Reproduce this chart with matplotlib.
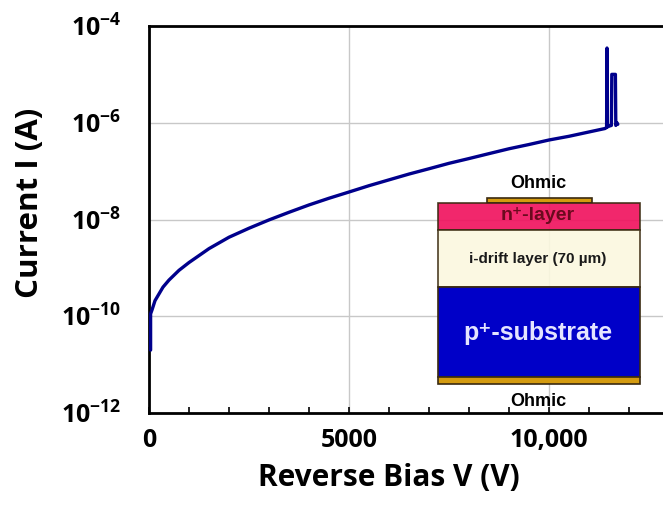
import numpy as np
import matplotlib
matplotlib.use("Agg")
import matplotlib.pyplot as plt
import matplotlib.ticker as mticker
from matplotlib.patches import Rectangle

# ---------------------------------------------------------------------------
# Measured reverse I-V sweep (voltage in V, current in A)
# ---------------------------------------------------------------------------
voltage = [40, 40, 75, 150, 350, 500, 750, 1000, 1200, 1500, 2000, 2500,
           3000, 3500, 4000, 4500, 5000, 5500, 6000, 6500, 7000, 7500, 8000,
           8500, 9000, 9500, 10000, 10500, 11000, 11400,
           11440, 11450, 11460, 11520, 11560, 11570, 11660, 11670, 11700,
           11720]
current = [2.0e-11, 1.12e-10, 1.35e-10, 2.1e-10, 4.0e-10, 5.6e-10, 8.9e-10,
           1.29e-9, 1.68e-9, 2.5e-9, 4.3e-9, 6.6e-9,
           9.8e-9, 1.41e-8, 2.0e-8, 2.75e-8, 3.7e-8, 5.0e-8, 6.6e-8, 8.7e-8,
           1.12e-7, 1.45e-7, 1.82e-7,
           2.3e-7, 2.9e-7, 3.55e-7, 4.4e-7, 5.25e-7, 6.45e-7, 7.6e-7,
           8.0e-7, 3.5e-5, 8.2e-7, 8.6e-7, 8.8e-7, 1.0e-5, 1.0e-5, 8.8e-7,
           1.0e-6, 9.3e-7]

x_major = [0, 5000, 10000]
x_labels = ["0", "5000", "10,000"]
y_decades = [-12, -10, -8, -6, -4]

W, H = 663, 507
plt.rcParams["font.family"] = ["Open Sans", "DejaVu Sans"]
plt.rcParams["mathtext.fontset"] = "custom"
plt.rcParams["mathtext.bf"] = "Open Sans:bold"
plt.rcParams["mathtext.rm"] = "Open Sans:bold"
plt.rcParams["mathtext.default"] = "bf"

fig = plt.figure(figsize=(W / 100, H / 100), dpi=100)
ax = fig.add_axes([149 / W, (H - 413) / H, 1 - 149 / W, (413 - 26) / H])

ax.plot(voltage, current, color="#00008C", lw=2.4, solid_joinstyle="round",
        solid_capstyle="round", zorder=3)

ax.set_yscale("log")
ax.set_ylim(1e-12, 1e-4)
ax.set_xlim(0, 12850)

ax.yaxis.set_major_locator(mticker.FixedLocator([10.0 ** d for d in y_decades]))
ax.yaxis.set_minor_locator(mticker.NullLocator())
ax.set_yticklabels([rf"$10^{{{d}}}$" for d in y_decades])
ax.xaxis.set_major_locator(mticker.FixedLocator(x_major))
ax.xaxis.set_minor_locator(mticker.MultipleLocator(1000))
ax.set_xticklabels(x_labels)

ax.tick_params(axis="y", length=0, pad=20, labelsize=18)
ax.tick_params(axis="x", which="both", direction="in", length=4, width=1.2,
               pad=11, labelsize=18)
for lab in ax.get_xticklabels() + ax.get_yticklabels():
    lab.set_fontweight("bold")

ax.grid(True, which="major", color="#C8C8C8", lw=1.0, zorder=0)
for side in ["left", "bottom", "top"]:
    ax.spines[side].set_linewidth(2.0)
ax.spines["right"].set_visible(False)

fig.text(30 / W, 1 - 203 / H, "Current I (A)", rotation=90, ha="center",
         va="center", fontsize=22.5, fontweight="bold")
fig.text(389 / W, 1 - 478 / H, "Reverse Bias V (V)", ha="center",
         va="center", fontsize=21.5, fontweight="bold")


# ---------------------------------------------------------------------------
# Device cross-section drawn over the lower right of the axes (pixel layout)
# ---------------------------------------------------------------------------
def px_rect(x0, y0, x1, y1, **kw):
    r = Rectangle((x0 / W, 1 - y1 / H), (x1 - x0) / W, (y1 - y0) / H,
                  transform=fig.transFigure, **kw)
    fig.add_artist(r)


def px_text(x, y, s, **kw):
    fig.text(x / W, 1 - y / H, s, ha="center", va="center",
             family=["Liberation Sans", "DejaVu Sans"], fontweight="bold",
             **kw)


edge = dict(ec="#3A2A10", lw=1.2)
px_rect(487, 198, 592, 203, fc="#D49B10", **edge)
px_rect(438, 203, 640, 230, fc="#F0145F", alpha=0.92, **edge)
px_rect(438, 230, 640, 287, fc="#FBF8DF", alpha=0.9, **edge)
px_rect(438, 287, 640, 377, fc="#0000C8", **edge)
px_rect(438, 377, 640, 384, fc="#D49B10", **edge)

px_text(538, 183, "Ohmic", fontsize=13, color="black")
px_text(538, 216, "n\u207a-layer", fontsize=14, color="#6A0A1E")
px_text(538, 259, "i-drift layer (70 µm)", fontsize=11, color="#1A1A1A")
px_text(538, 333, "p\u207a-substrate", fontsize=18, color="#E4E4FF")
px_text(538, 402, "Ohmic", fontsize=13, color="black")

fig.savefig("out.png", dpi=100)
